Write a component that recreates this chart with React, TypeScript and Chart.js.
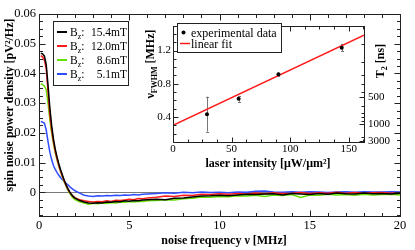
import React, { useEffect, useRef } from "react";
import { Chart, registerables } from "chart.js";
Chart.register(...registerables);

const SERIF = '"Liberation Serif", "Times New Roman", serif';

// ---------- main plot data ----------
const freq = [0.1, 0.2, 0.3, 0.4, 0.5, 0.6, 0.7, 0.8, 0.9, 1.0, 1.1, 1.2, 1.3, 1.4, 1.5, 1.6, 1.7, 1.8, 1.9, 2.0,
  2.25, 2.5, 2.75, 3.0, 3.25, 3.5, 3.75, 4.0, 4.25, 4.5, 4.75, 5.0, 5.25, 5.5, 5.75, 6.0,
  6.5, 7, 7.5, 8, 8.5, 9, 9.5, 10, 10.5, 11, 11.5, 12, 12.5, 13, 13.5, 14, 14.5, 15, 15.5, 16, 16.5, 17, 17.5, 18, 18.5, 19, 19.5, 20];

const bz154 = [0.0468, 0.0466, 0.0458, 0.0430, 0.0360, 0.0285, 0.0225, 0.0180, 0.0145, 0.0118, 0.0095, 0.0075, 0.0057, 0.0040, 0.0025, 0.0012, 0.0001, -0.0008, -0.0015, -0.0020,
  -0.0028, -0.0033, -0.0036, -0.0037, -0.0035, -0.0036, -0.0033, -0.0034, -0.0031, -0.0032, -0.0029, -0.0030, -0.0028, -0.0029, -0.0026, -0.0025,
  -0.0024, -0.0025, -0.0020, -0.0019, -0.0016, -0.0013, -0.0012, -0.0010, -0.0012, -0.0009, -0.0007, -0.0008, -0.0006, -0.0005, -0.0009, -0.0004, -0.0006, -0.0008, -0.0004, -0.0007, -0.0003, -0.0005, -0.0006, -0.0003, -0.0005, -0.0004, -0.0006, -0.0003];

const bz120 = [0.0460, 0.0455, 0.0445, 0.0415, 0.0340, 0.0262, 0.0210, 0.0170, 0.0138, 0.0112, 0.0090, 0.0070, 0.0053, 0.0037, 0.0023, 0.0010, 0.0000, -0.0008, -0.0014, -0.0019,
  -0.0025, -0.0029, -0.0031, -0.0033, -0.0031, -0.0032, -0.0029, -0.0031, -0.0027, -0.0028, -0.0026, -0.0024, -0.0025, -0.0021, -0.0022, -0.0019,
  -0.0017, -0.0013, -0.0014, -0.0010, -0.0011, -0.0007, -0.0008, -0.0005, -0.0007, -0.0004, -0.0006, -0.0003, -0.0005, -0.0002, -0.0004, -0.0003, -0.0001, -0.0004, -0.0002, -0.0003, 0.0000, -0.0003, -0.0001, -0.0003, -0.0002, -0.0001, -0.0003, -0.0001];

const bz86 = [0.0366, 0.0362, 0.0357, 0.0345, 0.0300, 0.0245, 0.0200, 0.0163, 0.0133, 0.0108, 0.0087, 0.0068, 0.0050, 0.0034, 0.0020, 0.0007, -0.0004, -0.0013, -0.0020, -0.0025,
  -0.0032, -0.0036, -0.0040, -0.0037, -0.0039, -0.0036, -0.0038, -0.0035, -0.0036, -0.0033, -0.0034, -0.0031, -0.0033, -0.0030, -0.0031, -0.0029,
  -0.0028, -0.0025, -0.0026, -0.0022, -0.0020, -0.0016, -0.0017, -0.0014, -0.0015, -0.0012, -0.0013, -0.0010, -0.0014, -0.0009, -0.0011, -0.0008, -0.0018, -0.0009, -0.0010, -0.0007, -0.0009, -0.0008, -0.0010, -0.0007, -0.0009, -0.0008, -0.0007, -0.0009];

const bz51 = [0.0238, 0.0236, 0.0232, 0.0210, 0.0170, 0.0135, 0.0110, 0.0090, 0.0077, 0.0066, 0.0057, 0.0049, 0.0042, 0.0036, 0.0030, 0.0025, 0.0019, 0.0014, 0.0009, 0.0005,
  -0.0003, -0.0010, -0.0013, -0.0014, -0.0012, -0.0013, -0.0011, -0.0012, -0.0010, -0.0011, -0.0009, -0.0010, -0.0008, -0.0009, -0.0007, -0.0006,
  -0.0004, -0.0002, -0.0003, 0.0000, -0.0002, 0.0001, -0.0001, 0.0000, -0.0002, 0.0001, 0.0000, 0.0003, 0.0004, 0.0001, 0.0000, 0.0002, 0.0000, 0.0002, 0.0001, -0.0001, 0.0001, 0.0002, 0.0000, 0.0002, 0.0001, 0.0001, 0.0002, 0.0001];

const seriesLabels = ["15.4mT", "12.0mT", "8.6mT", "5.1mT"];
const seriesValues = [bz154, bz120, bz86, bz51];
const seriesColors = ["#000000", "#ff1a1a", "#66e000", "#2f4dff"];

const mainXTicks = [0, 5, 10, 15, 20];
const mainYTicks = [0, 0.01, 0.02, 0.03, 0.04, 0.05, 0.06];

// ---------- inset data ----------
const intensity = [29, 56, 90, 144];
const fwhm = [0.435, 0.62, 0.915, 1.235];
const fwhmErr = [0.21, 0.035, 0.02, 0.045];
const fitX = [0, 163];
const fitY = [0.3, 1.386];
const insetXTicks = [0, 50, 100, 150];
const insetYTicks = [0.4, 0.8, 1.2];
const t2Ticks = [500, 1000, 3000];
const t2Minor = [250, 300, 350, 400, 450, 600, 700, 800, 900, 2000];

// ---------- helpers ----------
type Seg = { t: string; size: number; bold?: boolean; dy?: number };
const segFont = (s: Seg) => `${s.bold ? "bold " : ""}${s.size}px ${SERIF}`;

function drawSegs(ctx: CanvasRenderingContext2D, segs: Seg[], x: number, y: number, align: "left" | "center" | "right", rotate = false) {
  ctx.save();
  ctx.translate(x, y);
  if (rotate) ctx.rotate(-Math.PI / 2);
  let total = 0;
  const widths = segs.map((s) => {
    ctx.font = segFont(s);
    const w = ctx.measureText(s.t).width;
    total += w;
    return w;
  });
  let cx = align === "center" ? -total / 2 : align === "right" ? -total : 0;
  ctx.textBaseline = "alphabetic";
  ctx.textAlign = "left";
  ctx.fillStyle = "#000";
  segs.forEach((s, i) => {
    ctx.font = segFont(s);
    ctx.fillText(s.t, cx, s.dy || 0);
    cx += widths[i];
  });
  ctx.restore();
}

function ticksX(ctx: CanvasRenderingContext2D, scale: any, vals: number[], len: number, top: number, bottom: number) {
  ctx.beginPath();
  vals.forEach((v) => {
    const p = Math.round(scale.getPixelForValue(v)) + 0.5;
    if (p < scale.left - 1 || p > scale.right + 1) return;
    ctx.moveTo(p, bottom);
    ctx.lineTo(p, bottom - len);
    ctx.moveTo(p, top);
    ctx.lineTo(p, top + len);
  });
  ctx.stroke();
}

function ticksY(ctx: CanvasRenderingContext2D, scale: any, vals: number[], len: number, x: number, dir: number) {
  ctx.beginPath();
  vals.forEach((v) => {
    const p = Math.round(scale.getPixelForValue(v)) + 0.5;
    if (p < scale.top - 1 || p > scale.bottom + 1) return;
    ctx.moveTo(x, p);
    ctx.lineTo(x + dir * len, p);
  });
  ctx.stroke();
}

const range = (a: number, b: number, step: number) => {
  const out: number[] = [];
  for (let v = a; v <= b + 1e-9; v += step) out.push(+v.toFixed(6));
  return out;
};

const mainDecor = {
  id: "mainDecor",
  beforeDatasetsDraw(chart: any) {
    const { ctx, chartArea: a, scales } = chart;
    const y0 = Math.round(scales.y.getPixelForValue(0)) + 0.5;
    ctx.save();
    ctx.strokeStyle = "#7a7a7a";
    ctx.lineWidth = 1;
    ctx.beginPath();
    ctx.moveTo(a.left, y0);
    ctx.lineTo(a.right, y0);
    ctx.stroke();
    ctx.restore();
  },
  afterDatasetsDraw(chart: any) {
    const { ctx, chartArea: a, scales } = chart;
    const L = Math.round(a.left) + 0.5, R = Math.round(a.right) + 0.5, T = Math.round(a.top) + 0.5, B = Math.round(a.bottom) + 0.5;
    ctx.save();
    ctx.strokeStyle = "#222";
    ctx.lineWidth = 1;
    ctx.strokeRect(L, T, R - L, B - T);
    ticksX(ctx, scales.x, mainXTicks, 6, T, B);
    ticksX(ctx, scales.x, range(0, 20, 1), 3.5, T, B);
    ticksY(ctx, scales.y, mainYTicks, 6, L, 1);
    ticksY(ctx, scales.y, mainYTicks, 6, R, -1);
    const minorY = range(-0.0075, 0.06, 0.0025);
    ticksY(ctx, scales.y, minorY, 3.5, L, 1);
    ticksY(ctx, scales.y, minorY, 3.5, R, -1);
    ctx.restore();
  },
  afterDraw(chart: any) {
    const { ctx } = chart;
    // axis titles
    drawSegs(ctx, [{ t: "noise frequency ν [MHz]", size: 12, bold: true }], 224, 244, "center");
    drawSegs(ctx, [{ t: "spin noise power density [pV²/Hz]", size: 12, bold: true }], 13, 105, "center", true);
    // legend
    ctx.save();
    ctx.fillStyle = "#fff";
    ctx.fillRect(53, 21, 75, 64);
    ctx.strokeStyle = "#222";
    ctx.lineWidth = 1;
    ctx.strokeRect(53.5, 21.5, 75, 64);
    seriesLabels.forEach((lab, i) => {
      const yc = 32 + i * 14;
      ctx.strokeStyle = seriesColors[i];
      ctx.lineWidth = 2;
      ctx.beginPath();
      ctx.moveTo(57, yc);
      ctx.lineTo(67, yc);
      ctx.stroke();
      drawSegs(ctx, [{ t: "B", size: 11.5 }, { t: "z", size: 8, dy: 3 }, { t: ":", size: 11.5 }], 70, yc + 4, "left");
      drawSegs(ctx, [{ t: lab, size: 11.5 }], 127, yc + 4, "right");
    });
    ctx.restore();
  },
};

const insetDecor = {
  id: "insetDecor",
  beforeDatasetsDraw(chart: any) {
    const { ctx, scales } = chart;
    ctx.save();
    ctx.strokeStyle = "#777";
    ctx.lineWidth = 1;
    ctx.beginPath();
    intensity.forEach((x, i) => {
      const px = Math.round(scales.x.getPixelForValue(x)) + 0.5;
      const y1 = scales.y.getPixelForValue(fwhm[i] + fwhmErr[i]);
      const y2 = scales.y.getPixelForValue(fwhm[i] - fwhmErr[i]);
      ctx.moveTo(px, y1);
      ctx.lineTo(px, y2);
      ctx.moveTo(px - 1.5, Math.round(y1) + 0.5);
      ctx.lineTo(px + 1.5, Math.round(y1) + 0.5);
      ctx.moveTo(px - 1.5, Math.round(y2) + 0.5);
      ctx.lineTo(px + 1.5, Math.round(y2) + 0.5);
    });
    ctx.stroke();
    ctx.restore();
  },
  afterDatasetsDraw(chart: any) {
    const { ctx, chartArea: a, scales } = chart;
    const L = Math.round(a.left) + 0.5, R = Math.round(a.right) + 0.5, T = Math.round(a.top) + 0.5, B = Math.round(a.bottom) + 0.5;
    ctx.save();
    ctx.strokeStyle = "#222";
    ctx.lineWidth = 1;
    ctx.strokeRect(L, T, R - L, B - T);
    ticksX(ctx, scales.x, insetXTicks, 5, T, B);
    ticksX(ctx, scales.x, range(0, 162.5, 12.5), 3, T, B);
    ticksY(ctx, scales.y, insetYTicks, 5, L, 1);
    ticksY(ctx, scales.y, range(0.1, 1.5, 0.1), 3, L, 1);
    ticksY(ctx, scales.y2, t2Ticks.map((t) => 1000 / (Math.PI * t)), 5, R, -1);
    ticksY(ctx, scales.y2, t2Minor.map((t) => 1000 / (Math.PI * t)), 3, R, -1);
    ctx.restore();
  },
  afterDraw(chart: any) {
    const { ctx } = chart;
    drawSegs(ctx, [{ t: "laser intensity [μW/μm²]", size: 12, bold: true }], 128, 152, "center");
    drawSegs(ctx, [{ t: "ν", size: 12, bold: true }, { t: "FWHM", size: 8, bold: true, dy: 3 }, { t: " [MHz]", size: 12, bold: true }], 14, 49, "center", true);
    drawSegs(ctx, [{ t: "T", size: 12, bold: true }, { t: "2", size: 8, bold: true, dy: 3 }, { t: " [ns]", size: 12, bold: true }], 244, 46, "center", true);
    // legend
    ctx.save();
    ctx.fillStyle = "#fff";
    ctx.fillRect(37, 8, 104, 29);
    ctx.strokeStyle = "#222";
    ctx.lineWidth = 1;
    ctx.strokeRect(37.5, 8.5, 104, 29);
    ctx.fillStyle = "#000";
    ctx.beginPath();
    ctx.arc(43.5, 17.5, 2, 0, Math.PI * 2);
    ctx.fill();
    drawSegs(ctx, [{ t: "experimental data", size: 12 }], 51, 21.5, "left");
    ctx.strokeStyle = "#ff1a1a";
    ctx.lineWidth = 1.5;
    ctx.beginPath();
    ctx.moveTo(40, 28.5);
    ctx.lineTo(50, 28.5);
    ctx.stroke();
    drawSegs(ctx, [{ t: "linear fit", size: 12 }], 51, 32.5, "left");
    ctx.restore();
  },
};

export default function App() {
  const mainRef = useRef<HTMLCanvasElement>(null);
  const insetRef = useRef<HTMLCanvasElement>(null);

  useEffect(() => {
    const tickFont = { family: SERIF, size: 12.5 };
    const main = new Chart(mainRef.current as HTMLCanvasElement, {
      type: "line",
      data: {
        datasets: seriesValues.map((vals, i) => ({
          label: seriesLabels[i],
          data: freq.map((f, j) => ({ x: f, y: vals[j] })),
          borderColor: seriesColors[i],
          borderWidth: 1.5,
          pointRadius: 0,
          tension: 0,
          fill: false,
        })),
      },
      options: {
        animation: false,
        responsive: false,
        devicePixelRatio: 1,
        events: [],
        layout: { padding: { top: 14, right: 15, left: 0, bottom: 0 } },
        plugins: { legend: { display: false }, tooltip: { enabled: false } },
        scales: {
          x: {
            type: "linear",
            min: 0,
            max: 20,
            afterBuildTicks: (s: any) => { s.ticks = mainXTicks.map((v) => ({ value: v })); },
            afterFit: (s: any) => { s.height = 34; },
            grid: { display: false, drawTicks: false },
            border: { display: false },
            ticks: { font: tickFont, color: "#000", padding: 2, maxRotation: 0, autoSkip: false },
          },
          y: {
            type: "linear",
            min: -0.008,
            max: 0.06,
            afterBuildTicks: (s: any) => { s.ticks = mainYTicks.map((v) => ({ value: v })); },
            afterFit: (s: any) => { s.width = 39; },
            grid: { display: false, drawTicks: false },
            border: { display: false },
            ticks: {
              font: tickFont, color: "#000", padding: 3, autoSkip: false,
              callback: (v: any) => (Math.abs(v) < 1e-9 ? "0" : Number(v).toFixed(2)),
            },
          },
        },
      } as any,
      plugins: [mainDecor],
    });

    const insetFont = { family: SERIF, size: 11 };
    const inset = new Chart(insetRef.current as HTMLCanvasElement, {
      type: "scatter",
      data: {
        datasets: [
          {
            label: "experimental data",
            data: intensity.map((x, i) => ({ x, y: fwhm[i] })),
            pointRadius: 2,
            pointBackgroundColor: "#000",
            pointBorderWidth: 0,
            showLine: false,
            order: 0,
          },
          {
            label: "linear fit",
            data: fitX.map((x, i) => ({ x, y: fitY[i] })),
            showLine: true,
            borderColor: "#ff1a1a",
            borderWidth: 1.5,
            pointRadius: 0,
            order: 1,
          },
        ],
      },
      options: {
        animation: false,
        responsive: false,
        devicePixelRatio: 1,
        events: [],
        layout: { padding: { top: 6, right: 0, left: 0, bottom: 0 } },
        plugins: { legend: { display: false }, tooltip: { enabled: false } },
        scales: {
          x: {
            type: "linear",
            position: "bottom",
            min: 0,
            max: 163,
            afterBuildTicks: (s: any) => { s.ticks = insetXTicks.map((v) => ({ value: v })); },
            afterFit: (s: any) => { s.height = 33; },
            grid: { display: false, drawTicks: false },
            border: { display: false },
            ticks: { font: insetFont, color: "#000", padding: 1, maxRotation: 0, autoSkip: false },
          },
          y: {
            type: "linear",
            position: "left",
            min: 0.1,
            max: 1.5,
            afterBuildTicks: (s: any) => { s.ticks = insetYTicks.map((v) => ({ value: v })); },
            afterFit: (s: any) => { s.width = 33; },
            grid: { display: false, drawTicks: false },
            border: { display: false },
            ticks: { font: insetFont, color: "#000", padding: 2, autoSkip: false, callback: (v: any) => Number(v).toFixed(1) },
          },
          y2: {
            type: "linear",
            position: "right",
            min: 0.1,
            max: 1.5,
            afterBuildTicks: (s: any) => { s.ticks = t2Ticks.map((t) => ({ value: 1000 / (Math.PI * t) })); },
            afterFit: (s: any) => { s.width = 32; },
            grid: { display: false, drawTicks: false },
            border: { display: false },
            ticks: { font: insetFont, color: "#000", padding: 4, autoSkip: false, callback: (_v: any, i: number) => String(t2Ticks[i]) },
          },
        },
      } as any,
      plugins: [insetDecor],
    });

    return () => {
      main.destroy();
      inset.destroy();
    };
  }, []);

  return (
    <div style={{ position: "fixed", left: 0, top: 0, width: 415, height: 250, background: "#fff" }}>
      <canvas ref={mainRef} width={415} height={250} style={{ position: "absolute", left: 0, top: 0, width: 415, height: 250 }} />
      <canvas ref={insetRef} width={256} height={160} style={{ position: "absolute", left: 140, top: 15, width: 256, height: 160 }} />
    </div>
  );
}
